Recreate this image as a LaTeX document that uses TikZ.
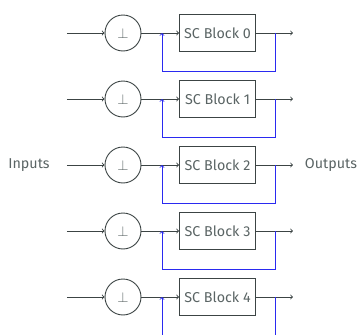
\documentclass[tikz,border=0pt]{standalone}
\usepackage{fontspec}
\setmainfont{Fira Sans}
\definecolor{txt}{HTML}{5A6464}
\definecolor{ln}{HTML}{3C4444}
\definecolor{fb}{HTML}{2A2AF0}
\begin{document}
\begin{tikzpicture}[x=1pt,y=-1pt,
  font=\fontsize{14.3}{17}\selectfont,
  every node/.style={text=txt},
  wire/.style={draw=ln,line width=0.9pt,-to},
  fbwire/.style={draw=fb,line width=0.9pt,-to},
  orth/.style={circle,draw=ln,line width=0.9pt,minimum size=36pt,inner sep=0pt},
  blk/.style={rectangle,draw=ln,line width=0.9pt,minimum width=76pt,minimum height=37pt,inner sep=0pt},
  lbl/.style={inner sep=0pt}]
\clip (0,0) rectangle (360,335);
\useasboundingbox (0,0) rectangle (360,335);
\foreach \i in {0,...,4} {
  \pgfmathsetmacro\yy{33+66*\i}
  \node[orth] (c\i) at (123,\yy) {$\perp$};
  \node[blk] (b\i) at (217.5,\yy) {SC Block \i};
  \coordinate (in\i) at (67,\yy);
  \coordinate (out\i) at (293,\yy);
  \coordinate (t\i) at (275,\yy);
  \coordinate (m\i) at (162,\yy);
  \draw[wire] (in\i) -- (c\i);
  \draw[wire] (c\i) -- (b\i);
  \draw[wire] (b\i) -- (out\i);
  \draw[fbwire] (t\i) -- ++(0,38) -| (m\i);
}
\node[lbl] (inl) at (29,165) {Inputs};
\node[lbl] (outl) at (331,165) {Outputs};
\end{tikzpicture}
\end{document}
